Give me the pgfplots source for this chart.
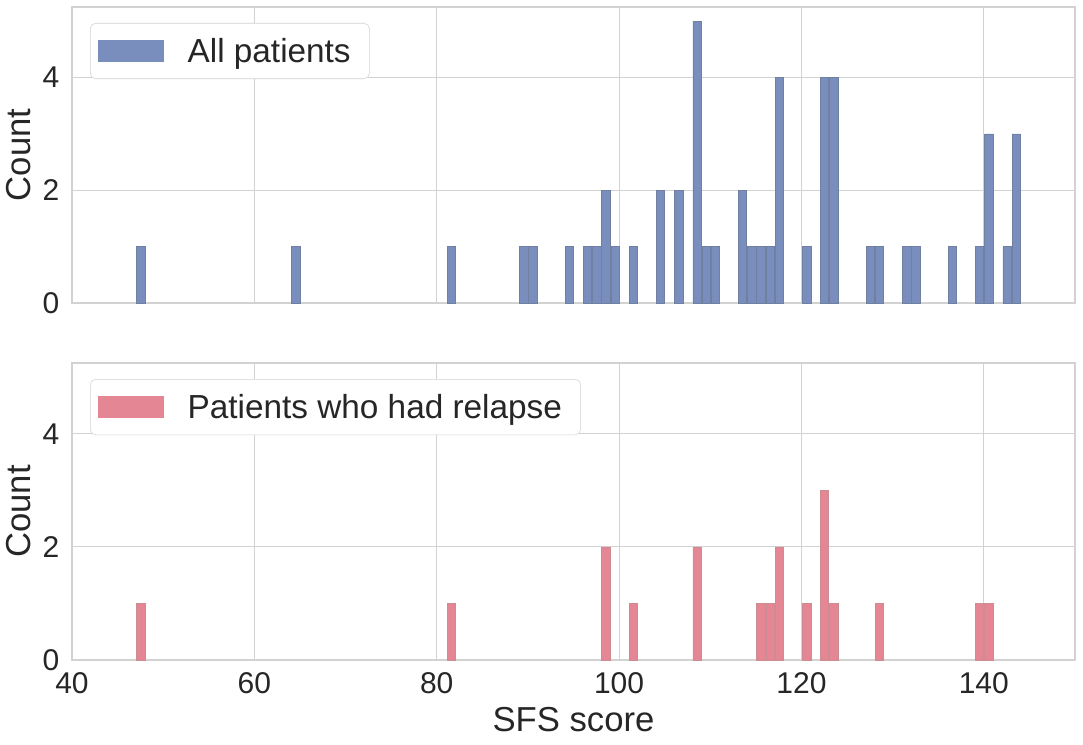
\documentclass[border=0pt]{standalone}
\usepackage{fontspec}
\setmainfont{Liberation Sans}
\usepackage{pgfplots}
\pgfplotsset{compat=1.18}
\definecolor{barblue}{RGB}{122,142,190}
\definecolor{edgeblue}{RGB}{112,128,160}
\definecolor{barred}{RGB}{228,134,148}
\definecolor{edgered}{RGB}{205,140,146}
\definecolor{gridc}{RGB}{210,210,210}
\pgfplotsset{
  sfsaxis/.style={
    scale only axis, width=752.25pt, height=222pt,
    xmin=40, xmax=150, ymin=0, ymax=5.25,
    xtick={40,60,80,100,120,140}, ytick={0,2,4},
    grid=major, grid style={draw=gridc, line width=0.7pt},
    axis line style={draw=gridc, line width=0.9pt},
    major tick length=0pt,
    /pgf/number format/assume math mode=true,
    tick label style={font=\fontsize{22.5}{26}\selectfont, text=black!85},
    label style={font=\fontsize{26}{30}\selectfont, text=black!85},
    ylabel={Count},
    ylabel style={yshift=2pt},
    yticklabel style={xshift=-6pt},
    xticklabel style={yshift=-6pt},
    legend cell align=left,
    legend image code/.code={\fill[##1, draw=none, sharp corners] (0pt,-8pt) rectangle (49pt,8pt);},
    legend style={at={(0.018,0.946)}, anchor=north west,
      font=\fontsize{25}{30}\selectfont, text=black!85,
      draw=gridc, rounded corners=4pt, inner xsep=6pt, inner ysep=9pt,
      nodes={inner xsep=8pt},
      /tikz/every odd column/.append style={column sep=10pt}},
  }
}
\begin{document}
\begin{tikzpicture}
\begin{axis}[sfsaxis, at={(0,0)}, anchor=south west, xticklabels={}]
\addplot[ybar, bar width=0.9, fill=barblue, draw=edgeblue, line width=0.5pt] coordinates {
(47.55,1) (64.55,1) (81.6,1) (89.55,1) (90.55,1) (94.55,1) (96.55,1) (97.55,1)
(98.55,2) (99.55,1) (101.55,1) (104.55,2) (106.55,2) (108.55,5) (109.6,1) (110.55,1)
(113.55,2) (114.55,1) (115.55,1) (116.55,1) (117.55,4) (120.6,1) (122.55,4) (123.55,4)
(127.55,1) (128.55,1) (131.55,1) (132.55,1) (136.55,1) (139.55,1) (140.55,3)
(142.55,1) (143.55,3)
};
\addlegendentry{All patients}
\end{axis}
\begin{axis}[sfsaxis, at={(0,-45pt)}, anchor=north west, height=222.75pt,
  xlabel={SFS score}, xlabel style={yshift=-3pt}]
\addplot[ybar, bar width=0.9, fill=barred, draw=edgered, line width=0.5pt] coordinates {
(47.55,1) (81.6,1) (98.55,2) (101.55,1) (108.55,2) (115.55,1) (116.55,1) (117.55,2)
(120.6,1) (122.55,3) (123.55,1) (128.55,1) (139.55,1) (140.55,1)
};
\addlegendentry{Patients who had relapse}
\end{axis}
\pgfresetboundingbox
\path (-54pt,-330.75pt) rectangle (758.25pt,227.25pt);
\end{tikzpicture}
\end{document}
